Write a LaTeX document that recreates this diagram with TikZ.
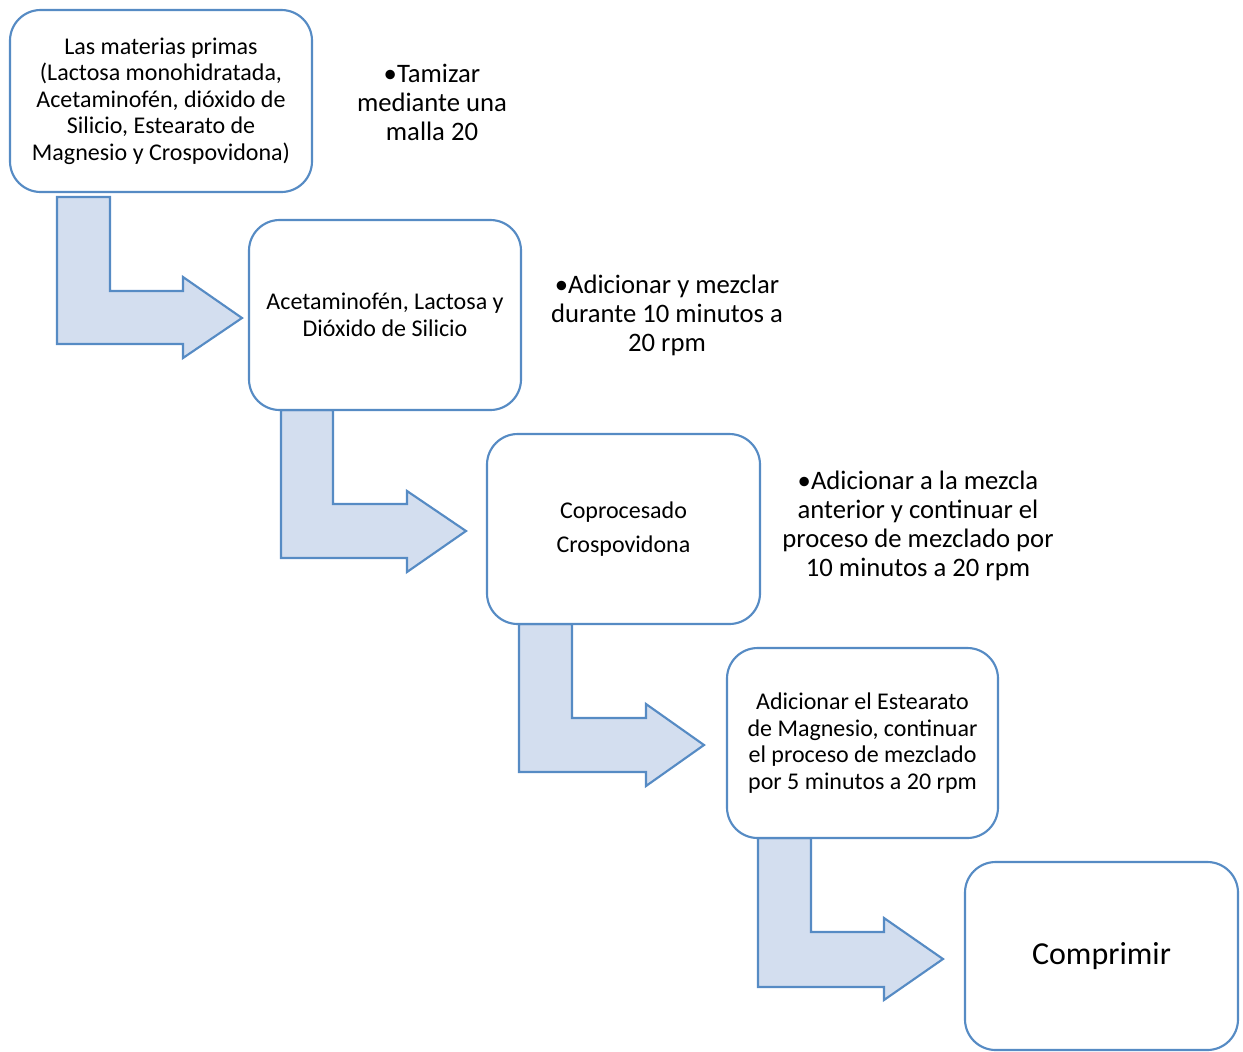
\documentclass[tikz,border=0pt]{standalone}
\usepackage{fontspec}
\setmainfont{Carlito}
\definecolor{edgeblue}{RGB}{86,139,196}
\definecolor{fillblue}{RGB}{211,222,239}
\begin{document}
\begin{tikzpicture}[x=0.75pt,y=-0.75pt,
  stepbox/.style={draw=edgeblue,line width=1.6pt,fill=white,rounded corners=23pt,
    align=center,inner sep=0pt,font=\fontsize{18}{19.9}\selectfont},
  bentarrow/.style={draw=edgeblue,line width=1.6pt,fill=fillblue,line join=miter},
  note/.style={align=center,inner sep=0pt,font=\fontsize{20}{21.75}\selectfont}]
\useasboundingbox (0,0) rectangle (1243,1051);
% bent block arrows
\draw[bentarrow] (57,197) -- (110,197) -- (110,291) -- (183,291) -- (183,277) -- (242,318)
  -- (183,358) -- (183,344) -- (57,344) -- cycle;
\draw[bentarrow] (281,410) -- (333,410) -- (333,504) -- (407,504) -- (407,491) -- (466,531)
  -- (407,572) -- (407,558) -- (281,558) -- cycle;
\draw[bentarrow] (519,624) -- (572,624) -- (572,718) -- (646,718) -- (646,704) -- (704,745)
  -- (646,786) -- (646,772) -- (519,772) -- cycle;
\draw[bentarrow] (758,838) -- (811,838) -- (811,932) -- (884,932) -- (884,918) -- (943,959)
  -- (884,1000) -- (884,987) -- (758,987) -- cycle;
% boxes
\node[stepbox,minimum width=226.5pt,minimum height=136.5pt] (b1) at (161,101)
  {Las materias primas\\(Lactosa monohidratada,\\Acetaminofén, dióxido de\\Silicio, Estearato de\\Magnesio y Crospovidona)};
\node[stepbox,minimum width=204pt,minimum height=142.5pt] (b2) at (385,315)
  {Acetaminofén, Lactosa y\\Dióxido de Silicio};
\node[stepbox,minimum width=204.75pt,minimum height=142.5pt,font=\fontsize{18}{26}\selectfont] (b3) at (623.5,529)
  {Coprocesado\\Crospovidona};
\node[stepbox,minimum width=203.25pt,minimum height=142.5pt] (b4) at (862.5,743)
  {Adicionar el Estearato\\de Magnesio, continuar\\el proceso de mezclado\\por 5 minutos a 20 rpm};
\node[stepbox,minimum width=204.75pt,minimum height=141pt,font=\fontsize{24}{29}\selectfont] (b5) at (1101.5,956)
  {Comprimir};
% notes
\node[note] (n1) at (432,102) {•Tamizar\\mediante una\\malla 20};
\node[note] (n2) at (667,315) {•Adicionar y mezclar\\durante 10 minutos a\\20 rpm};
\node[note] (n3) at (918,526) {•Adicionar a la mezcla\\anterior y continuar el\\proceso de mezclado por\\10 minutos a 20 rpm};
\end{tikzpicture}
\end{document}
